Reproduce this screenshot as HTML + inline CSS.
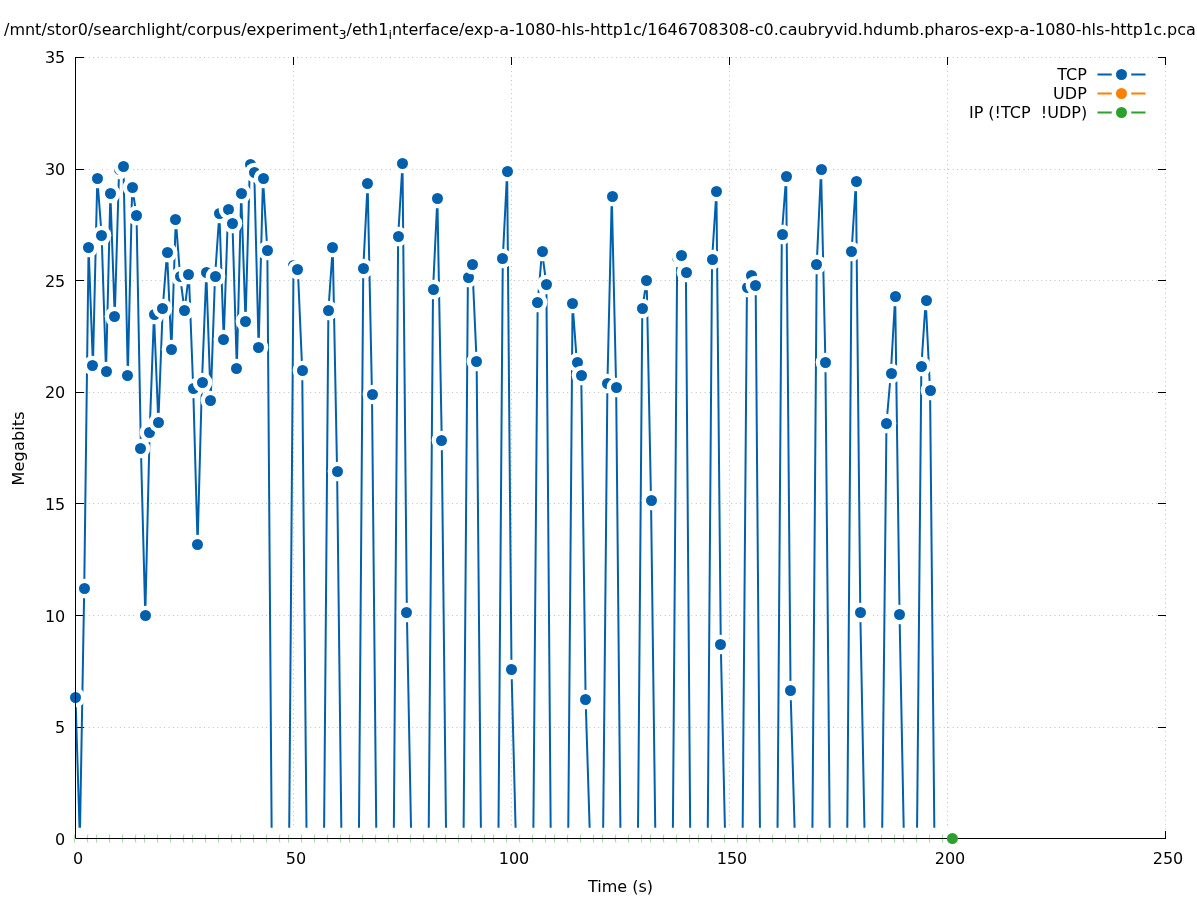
<!DOCTYPE html>
<html><head><meta charset="utf-8"><title>plot</title><style>html,body{margin:0;padding:0;background:#fff;overflow:hidden}body{width:1197px;height:900px;position:relative}</style></head><body>
<svg width="1197" height="900" viewBox="0 0 1197 900" style="display:block;position:absolute;left:0;top:0">
<rect width="1197" height="900" fill="#fff"/>
<g stroke="#c0c0c0" stroke-width="1" stroke-dasharray="1 3.43" fill="none">
<path d="M75.5 838.5H1165.5"/>
<path d="M75.5 727.5H1165.5"/>
<path d="M75.5 615.5H1165.5"/>
<path d="M75.5 503.5H1165.5"/>
<path d="M75.5 392.5H1165.5"/>
<path d="M75.5 280.5H1165.5"/>
<path d="M75.5 169.5H1165.5"/>
<path d="M75.5 57.5H1165.5"/>
<path d="M75.5 838.5V57.5"/>
<path d="M293.5 838.5V57.5"/>
<path d="M511.5 838.5V57.5"/>
<path d="M729.5 838.5V57.5"/>
<path d="M947.5 838.5V57.5"/>
<path d="M1165.5 838.5V57.5"/>
</g>
<g stroke="#000" stroke-width="1" fill="none">
<path d="M75.5 838.5H84M1166 838.5H1158"/>
<path d="M75.5 727.5H84M1166 727.5H1158"/>
<path d="M75.5 615.5H84M1166 615.5H1158"/>
<path d="M75.5 503.5H84M1166 503.5H1158"/>
<path d="M75.5 392.5H84M1166 392.5H1158"/>
<path d="M75.5 280.5H84M1166 280.5H1158"/>
<path d="M75.5 169.5H84M1166 169.5H1158"/>
<path d="M75.5 57.5H84M1166 57.5H1158"/>
<path d="M75.5 839V831M75.5 57V65"/>
<path d="M293.5 839V831M293.5 57V65"/>
<path d="M511.5 839V831M511.5 57V65"/>
<path d="M729.5 839V831M729.5 57V65"/>
<path d="M947.5 839V831M947.5 57V65"/>
<path d="M1165.5 839V831M1165.5 57V65"/>
</g>
<clipPath id="c"><rect x="75" y="57" width="1091" height="782"/></clipPath>
<path d="M75.50 697.5L79.86 838.5L84.22 588.5L88.58 247.5L92.94 365.5L97.30 178.5L101.66 235.5L106.02 371.5L110.38 193.5L114.74 316.5L119.10 169.5L123.46 166.5L127.82 375.5L132.18 187.5L136.54 215.5L140.90 448.5L145.26 615.5L149.62 432.5L153.98 314.5L158.34 422.5L162.70 308.5L167.06 252.5L171.42 349.5L175.78 219.5L180.14 276.5L184.50 310.5L188.86 274.5L193.22 388.5L197.58 544.5L201.94 382.5L206.30 272.5L210.66 400.5L215.02 276.5L219.38 213.5L223.74 339.5L228.10 209.5L232.46 223.5L236.82 368.5L241.18 193.5L245.54 321.5L249.90 164.5L254.26 172.5L258.62 347.5L262.98 178.5L267.34 250.5L271.70 838.5L276.06 838.5L280.42 838.5L284.78 838.5L289.14 838.5L293.50 265.5L297.86 269.5L302.22 370.5L306.58 838.5L310.94 838.5L315.30 838.5L319.66 838.5L324.02 838.5L328.38 310.5L332.74 247.5L337.10 471.5L341.46 838.5L345.82 838.5L350.18 838.5L354.54 838.5L358.90 838.5L363.26 268.5L367.62 183.5L371.98 394.5L376.34 838.5L380.70 838.5L385.06 838.5L389.42 838.5L393.78 838.5L398.14 236.5L402.50 163.5L406.86 612.5L411.22 838.5L415.58 838.5L419.94 838.5L424.30 838.5L428.66 838.5L433.02 289.5L437.38 198.5L441.74 440.5L446.10 838.5L450.46 838.5L454.82 838.5L459.18 838.5L463.54 838.5L467.90 277.5L472.26 264.5L476.62 361.5L480.98 838.5L485.34 838.5L489.70 838.5L494.06 838.5L498.42 838.5L502.78 258.5L507.14 171.5L511.50 669.5L515.86 838.5L520.22 838.5L524.58 838.5L528.94 838.5L533.30 838.5L537.66 302.5L542.02 251.5L546.38 284.5L550.74 838.5L555.10 838.5L559.46 838.5L563.82 838.5L568.18 838.5L572.54 303.5L576.90 362.5L581.26 375.5L585.62 699.5L589.98 838.5L594.34 838.5L598.70 838.5L603.06 838.5L607.42 383.5L611.78 196.5L616.14 387.5L620.50 838.5L624.86 838.5L629.22 838.5L633.58 838.5L637.94 838.5L642.30 308.5L646.66 280.5L651.02 500.5L655.38 838.5L659.74 838.5L664.10 838.5L668.46 838.5L672.82 838.5L677.18 257.5L681.54 255.5L685.90 272.5L690.26 838.5L694.62 838.5L698.98 838.5L703.34 838.5L707.70 838.5L712.06 259.5L716.42 191.5L720.78 644.5L725.14 838.5L729.50 838.5L733.86 838.5L738.22 838.5L742.58 838.5L746.94 287.5L751.30 275.5L755.66 285.5L760.02 838.5L764.38 838.5L768.74 838.5L773.10 838.5L777.46 838.5L781.82 234.5L786.18 176.5L790.54 690.5L794.90 838.5L799.26 838.5L803.62 838.5L807.98 838.5L812.34 838.5L816.70 264.5L821.06 169.5L825.42 362.5L829.78 838.5L834.14 838.5L838.50 838.5L842.86 838.5L847.22 838.5L851.58 251.5L855.94 181.5L860.30 612.5L864.66 838.5L869.02 838.5L873.38 838.5L877.74 838.5L882.10 838.5L886.46 423.5L890.82 373.5L895.18 296.5L899.54 614.5L903.90 838.5L908.26 838.5L912.62 838.5L916.98 838.5L921.34 366.5L925.70 300.5L930.06 390.5L934.42 838.5" fill="none" stroke="#0060ad" stroke-width="2" stroke-linejoin="round" clip-path="url(#c)"/>
<circle cx="75.5" cy="697.5" r="9.8" fill="#fff"/><circle cx="75.5" cy="697.5" r="5.5" fill="#0060ad"/>
<circle cx="79.5" cy="838.5" r="9.8" fill="#fff"/><circle cx="79.5" cy="838.5" r="5.5" fill="#0060ad"/>
<circle cx="84.5" cy="588.5" r="9.8" fill="#fff"/><circle cx="84.5" cy="588.5" r="5.5" fill="#0060ad"/>
<circle cx="88.5" cy="247.5" r="9.8" fill="#fff"/><circle cx="88.5" cy="247.5" r="5.5" fill="#0060ad"/>
<circle cx="92.5" cy="365.5" r="9.8" fill="#fff"/><circle cx="92.5" cy="365.5" r="5.5" fill="#0060ad"/>
<circle cx="97.5" cy="178.5" r="9.8" fill="#fff"/><circle cx="97.5" cy="178.5" r="5.5" fill="#0060ad"/>
<circle cx="101.5" cy="235.5" r="9.8" fill="#fff"/><circle cx="101.5" cy="235.5" r="5.5" fill="#0060ad"/>
<circle cx="106.5" cy="371.5" r="9.8" fill="#fff"/><circle cx="106.5" cy="371.5" r="5.5" fill="#0060ad"/>
<circle cx="110.5" cy="193.5" r="9.8" fill="#fff"/><circle cx="110.5" cy="193.5" r="5.5" fill="#0060ad"/>
<circle cx="114.5" cy="316.5" r="9.8" fill="#fff"/><circle cx="114.5" cy="316.5" r="5.5" fill="#0060ad"/>
<circle cx="119.5" cy="169.5" r="9.8" fill="#fff"/><circle cx="119.5" cy="169.5" r="5.5" fill="#0060ad"/>
<circle cx="123.5" cy="166.5" r="9.8" fill="#fff"/><circle cx="123.5" cy="166.5" r="5.5" fill="#0060ad"/>
<circle cx="127.5" cy="375.5" r="9.8" fill="#fff"/><circle cx="127.5" cy="375.5" r="5.5" fill="#0060ad"/>
<circle cx="132.5" cy="187.5" r="9.8" fill="#fff"/><circle cx="132.5" cy="187.5" r="5.5" fill="#0060ad"/>
<circle cx="136.5" cy="215.5" r="9.8" fill="#fff"/><circle cx="136.5" cy="215.5" r="5.5" fill="#0060ad"/>
<circle cx="140.5" cy="448.5" r="9.8" fill="#fff"/><circle cx="140.5" cy="448.5" r="5.5" fill="#0060ad"/>
<circle cx="145.5" cy="615.5" r="9.8" fill="#fff"/><circle cx="145.5" cy="615.5" r="5.5" fill="#0060ad"/>
<circle cx="149.5" cy="432.5" r="9.8" fill="#fff"/><circle cx="149.5" cy="432.5" r="5.5" fill="#0060ad"/>
<circle cx="154.5" cy="314.5" r="9.8" fill="#fff"/><circle cx="154.5" cy="314.5" r="5.5" fill="#0060ad"/>
<circle cx="158.5" cy="422.5" r="9.8" fill="#fff"/><circle cx="158.5" cy="422.5" r="5.5" fill="#0060ad"/>
<circle cx="162.5" cy="308.5" r="9.8" fill="#fff"/><circle cx="162.5" cy="308.5" r="5.5" fill="#0060ad"/>
<circle cx="167.5" cy="252.5" r="9.8" fill="#fff"/><circle cx="167.5" cy="252.5" r="5.5" fill="#0060ad"/>
<circle cx="171.5" cy="349.5" r="9.8" fill="#fff"/><circle cx="171.5" cy="349.5" r="5.5" fill="#0060ad"/>
<circle cx="175.5" cy="219.5" r="9.8" fill="#fff"/><circle cx="175.5" cy="219.5" r="5.5" fill="#0060ad"/>
<circle cx="180.5" cy="276.5" r="9.8" fill="#fff"/><circle cx="180.5" cy="276.5" r="5.5" fill="#0060ad"/>
<circle cx="184.5" cy="310.5" r="9.8" fill="#fff"/><circle cx="184.5" cy="310.5" r="5.5" fill="#0060ad"/>
<circle cx="188.5" cy="274.5" r="9.8" fill="#fff"/><circle cx="188.5" cy="274.5" r="5.5" fill="#0060ad"/>
<circle cx="193.5" cy="388.5" r="9.8" fill="#fff"/><circle cx="193.5" cy="388.5" r="5.5" fill="#0060ad"/>
<circle cx="197.5" cy="544.5" r="9.8" fill="#fff"/><circle cx="197.5" cy="544.5" r="5.5" fill="#0060ad"/>
<circle cx="202.5" cy="382.5" r="9.8" fill="#fff"/><circle cx="202.5" cy="382.5" r="5.5" fill="#0060ad"/>
<circle cx="206.5" cy="272.5" r="9.8" fill="#fff"/><circle cx="206.5" cy="272.5" r="5.5" fill="#0060ad"/>
<circle cx="210.5" cy="400.5" r="9.8" fill="#fff"/><circle cx="210.5" cy="400.5" r="5.5" fill="#0060ad"/>
<circle cx="215.5" cy="276.5" r="9.8" fill="#fff"/><circle cx="215.5" cy="276.5" r="5.5" fill="#0060ad"/>
<circle cx="219.5" cy="213.5" r="9.8" fill="#fff"/><circle cx="219.5" cy="213.5" r="5.5" fill="#0060ad"/>
<circle cx="223.5" cy="339.5" r="9.8" fill="#fff"/><circle cx="223.5" cy="339.5" r="5.5" fill="#0060ad"/>
<circle cx="228.5" cy="209.5" r="9.8" fill="#fff"/><circle cx="228.5" cy="209.5" r="5.5" fill="#0060ad"/>
<circle cx="232.5" cy="223.5" r="9.8" fill="#fff"/><circle cx="232.5" cy="223.5" r="5.5" fill="#0060ad"/>
<circle cx="236.5" cy="368.5" r="9.8" fill="#fff"/><circle cx="236.5" cy="368.5" r="5.5" fill="#0060ad"/>
<circle cx="241.5" cy="193.5" r="9.8" fill="#fff"/><circle cx="241.5" cy="193.5" r="5.5" fill="#0060ad"/>
<circle cx="245.5" cy="321.5" r="9.8" fill="#fff"/><circle cx="245.5" cy="321.5" r="5.5" fill="#0060ad"/>
<circle cx="250.5" cy="164.5" r="9.8" fill="#fff"/><circle cx="250.5" cy="164.5" r="5.5" fill="#0060ad"/>
<circle cx="254.5" cy="172.5" r="9.8" fill="#fff"/><circle cx="254.5" cy="172.5" r="5.5" fill="#0060ad"/>
<circle cx="258.5" cy="347.5" r="9.8" fill="#fff"/><circle cx="258.5" cy="347.5" r="5.5" fill="#0060ad"/>
<circle cx="263.5" cy="178.5" r="9.8" fill="#fff"/><circle cx="263.5" cy="178.5" r="5.5" fill="#0060ad"/>
<circle cx="267.5" cy="250.5" r="9.8" fill="#fff"/><circle cx="267.5" cy="250.5" r="5.5" fill="#0060ad"/>
<circle cx="271.5" cy="838.5" r="9.8" fill="#fff"/><circle cx="271.5" cy="838.5" r="5.5" fill="#0060ad"/>
<circle cx="276.5" cy="838.5" r="9.8" fill="#fff"/><circle cx="276.5" cy="838.5" r="5.5" fill="#0060ad"/>
<circle cx="280.5" cy="838.5" r="9.8" fill="#fff"/><circle cx="280.5" cy="838.5" r="5.5" fill="#0060ad"/>
<circle cx="284.5" cy="838.5" r="9.8" fill="#fff"/><circle cx="284.5" cy="838.5" r="5.5" fill="#0060ad"/>
<circle cx="289.5" cy="838.5" r="9.8" fill="#fff"/><circle cx="289.5" cy="838.5" r="5.5" fill="#0060ad"/>
<circle cx="293.5" cy="265.5" r="9.8" fill="#fff"/><circle cx="293.5" cy="265.5" r="5.5" fill="#0060ad"/>
<circle cx="297.5" cy="269.5" r="9.8" fill="#fff"/><circle cx="297.5" cy="269.5" r="5.5" fill="#0060ad"/>
<circle cx="302.5" cy="370.5" r="9.8" fill="#fff"/><circle cx="302.5" cy="370.5" r="5.5" fill="#0060ad"/>
<circle cx="306.5" cy="838.5" r="9.8" fill="#fff"/><circle cx="306.5" cy="838.5" r="5.5" fill="#0060ad"/>
<circle cx="310.5" cy="838.5" r="9.8" fill="#fff"/><circle cx="310.5" cy="838.5" r="5.5" fill="#0060ad"/>
<circle cx="315.5" cy="838.5" r="9.8" fill="#fff"/><circle cx="315.5" cy="838.5" r="5.5" fill="#0060ad"/>
<circle cx="319.5" cy="838.5" r="9.8" fill="#fff"/><circle cx="319.5" cy="838.5" r="5.5" fill="#0060ad"/>
<circle cx="324.5" cy="838.5" r="9.8" fill="#fff"/><circle cx="324.5" cy="838.5" r="5.5" fill="#0060ad"/>
<circle cx="328.5" cy="310.5" r="9.8" fill="#fff"/><circle cx="328.5" cy="310.5" r="5.5" fill="#0060ad"/>
<circle cx="332.5" cy="247.5" r="9.8" fill="#fff"/><circle cx="332.5" cy="247.5" r="5.5" fill="#0060ad"/>
<circle cx="337.5" cy="471.5" r="9.8" fill="#fff"/><circle cx="337.5" cy="471.5" r="5.5" fill="#0060ad"/>
<circle cx="341.5" cy="838.5" r="9.8" fill="#fff"/><circle cx="341.5" cy="838.5" r="5.5" fill="#0060ad"/>
<circle cx="345.5" cy="838.5" r="9.8" fill="#fff"/><circle cx="345.5" cy="838.5" r="5.5" fill="#0060ad"/>
<circle cx="350.5" cy="838.5" r="9.8" fill="#fff"/><circle cx="350.5" cy="838.5" r="5.5" fill="#0060ad"/>
<circle cx="354.5" cy="838.5" r="9.8" fill="#fff"/><circle cx="354.5" cy="838.5" r="5.5" fill="#0060ad"/>
<circle cx="358.5" cy="838.5" r="9.8" fill="#fff"/><circle cx="358.5" cy="838.5" r="5.5" fill="#0060ad"/>
<circle cx="363.5" cy="268.5" r="9.8" fill="#fff"/><circle cx="363.5" cy="268.5" r="5.5" fill="#0060ad"/>
<circle cx="367.5" cy="183.5" r="9.8" fill="#fff"/><circle cx="367.5" cy="183.5" r="5.5" fill="#0060ad"/>
<circle cx="372.5" cy="394.5" r="9.8" fill="#fff"/><circle cx="372.5" cy="394.5" r="5.5" fill="#0060ad"/>
<circle cx="376.5" cy="838.5" r="9.8" fill="#fff"/><circle cx="376.5" cy="838.5" r="5.5" fill="#0060ad"/>
<circle cx="380.5" cy="838.5" r="9.8" fill="#fff"/><circle cx="380.5" cy="838.5" r="5.5" fill="#0060ad"/>
<circle cx="385.5" cy="838.5" r="9.8" fill="#fff"/><circle cx="385.5" cy="838.5" r="5.5" fill="#0060ad"/>
<circle cx="389.5" cy="838.5" r="9.8" fill="#fff"/><circle cx="389.5" cy="838.5" r="5.5" fill="#0060ad"/>
<circle cx="393.5" cy="838.5" r="9.8" fill="#fff"/><circle cx="393.5" cy="838.5" r="5.5" fill="#0060ad"/>
<circle cx="398.5" cy="236.5" r="9.8" fill="#fff"/><circle cx="398.5" cy="236.5" r="5.5" fill="#0060ad"/>
<circle cx="402.5" cy="163.5" r="9.8" fill="#fff"/><circle cx="402.5" cy="163.5" r="5.5" fill="#0060ad"/>
<circle cx="406.5" cy="612.5" r="9.8" fill="#fff"/><circle cx="406.5" cy="612.5" r="5.5" fill="#0060ad"/>
<circle cx="411.5" cy="838.5" r="9.8" fill="#fff"/><circle cx="411.5" cy="838.5" r="5.5" fill="#0060ad"/>
<circle cx="415.5" cy="838.5" r="9.8" fill="#fff"/><circle cx="415.5" cy="838.5" r="5.5" fill="#0060ad"/>
<circle cx="420.5" cy="838.5" r="9.8" fill="#fff"/><circle cx="420.5" cy="838.5" r="5.5" fill="#0060ad"/>
<circle cx="424.5" cy="838.5" r="9.8" fill="#fff"/><circle cx="424.5" cy="838.5" r="5.5" fill="#0060ad"/>
<circle cx="428.5" cy="838.5" r="9.8" fill="#fff"/><circle cx="428.5" cy="838.5" r="5.5" fill="#0060ad"/>
<circle cx="433.5" cy="289.5" r="9.8" fill="#fff"/><circle cx="433.5" cy="289.5" r="5.5" fill="#0060ad"/>
<circle cx="437.5" cy="198.5" r="9.8" fill="#fff"/><circle cx="437.5" cy="198.5" r="5.5" fill="#0060ad"/>
<circle cx="441.5" cy="440.5" r="9.8" fill="#fff"/><circle cx="441.5" cy="440.5" r="5.5" fill="#0060ad"/>
<circle cx="446.5" cy="838.5" r="9.8" fill="#fff"/><circle cx="446.5" cy="838.5" r="5.5" fill="#0060ad"/>
<circle cx="450.5" cy="838.5" r="9.8" fill="#fff"/><circle cx="450.5" cy="838.5" r="5.5" fill="#0060ad"/>
<circle cx="454.5" cy="838.5" r="9.8" fill="#fff"/><circle cx="454.5" cy="838.5" r="5.5" fill="#0060ad"/>
<circle cx="459.5" cy="838.5" r="9.8" fill="#fff"/><circle cx="459.5" cy="838.5" r="5.5" fill="#0060ad"/>
<circle cx="463.5" cy="838.5" r="9.8" fill="#fff"/><circle cx="463.5" cy="838.5" r="5.5" fill="#0060ad"/>
<circle cx="468.5" cy="277.5" r="9.8" fill="#fff"/><circle cx="468.5" cy="277.5" r="5.5" fill="#0060ad"/>
<circle cx="472.5" cy="264.5" r="9.8" fill="#fff"/><circle cx="472.5" cy="264.5" r="5.5" fill="#0060ad"/>
<circle cx="476.5" cy="361.5" r="9.8" fill="#fff"/><circle cx="476.5" cy="361.5" r="5.5" fill="#0060ad"/>
<circle cx="481.5" cy="838.5" r="9.8" fill="#fff"/><circle cx="481.5" cy="838.5" r="5.5" fill="#0060ad"/>
<circle cx="485.5" cy="838.5" r="9.8" fill="#fff"/><circle cx="485.5" cy="838.5" r="5.5" fill="#0060ad"/>
<circle cx="489.5" cy="838.5" r="9.8" fill="#fff"/><circle cx="489.5" cy="838.5" r="5.5" fill="#0060ad"/>
<circle cx="494.5" cy="838.5" r="9.8" fill="#fff"/><circle cx="494.5" cy="838.5" r="5.5" fill="#0060ad"/>
<circle cx="498.5" cy="838.5" r="9.8" fill="#fff"/><circle cx="498.5" cy="838.5" r="5.5" fill="#0060ad"/>
<circle cx="502.5" cy="258.5" r="9.8" fill="#fff"/><circle cx="502.5" cy="258.5" r="5.5" fill="#0060ad"/>
<circle cx="507.5" cy="171.5" r="9.8" fill="#fff"/><circle cx="507.5" cy="171.5" r="5.5" fill="#0060ad"/>
<circle cx="511.5" cy="669.5" r="9.8" fill="#fff"/><circle cx="511.5" cy="669.5" r="5.5" fill="#0060ad"/>
<circle cx="515.5" cy="838.5" r="9.8" fill="#fff"/><circle cx="515.5" cy="838.5" r="5.5" fill="#0060ad"/>
<circle cx="520.5" cy="838.5" r="9.8" fill="#fff"/><circle cx="520.5" cy="838.5" r="5.5" fill="#0060ad"/>
<circle cx="524.5" cy="838.5" r="9.8" fill="#fff"/><circle cx="524.5" cy="838.5" r="5.5" fill="#0060ad"/>
<circle cx="529.5" cy="838.5" r="9.8" fill="#fff"/><circle cx="529.5" cy="838.5" r="5.5" fill="#0060ad"/>
<circle cx="533.5" cy="838.5" r="9.8" fill="#fff"/><circle cx="533.5" cy="838.5" r="5.5" fill="#0060ad"/>
<circle cx="537.5" cy="302.5" r="9.8" fill="#fff"/><circle cx="537.5" cy="302.5" r="5.5" fill="#0060ad"/>
<circle cx="542.5" cy="251.5" r="9.8" fill="#fff"/><circle cx="542.5" cy="251.5" r="5.5" fill="#0060ad"/>
<circle cx="546.5" cy="284.5" r="9.8" fill="#fff"/><circle cx="546.5" cy="284.5" r="5.5" fill="#0060ad"/>
<circle cx="550.5" cy="838.5" r="9.8" fill="#fff"/><circle cx="550.5" cy="838.5" r="5.5" fill="#0060ad"/>
<circle cx="555.5" cy="838.5" r="9.8" fill="#fff"/><circle cx="555.5" cy="838.5" r="5.5" fill="#0060ad"/>
<circle cx="559.5" cy="838.5" r="9.8" fill="#fff"/><circle cx="559.5" cy="838.5" r="5.5" fill="#0060ad"/>
<circle cx="563.5" cy="838.5" r="9.8" fill="#fff"/><circle cx="563.5" cy="838.5" r="5.5" fill="#0060ad"/>
<circle cx="568.5" cy="838.5" r="9.8" fill="#fff"/><circle cx="568.5" cy="838.5" r="5.5" fill="#0060ad"/>
<circle cx="572.5" cy="303.5" r="9.8" fill="#fff"/><circle cx="572.5" cy="303.5" r="5.5" fill="#0060ad"/>
<circle cx="577.5" cy="362.5" r="9.8" fill="#fff"/><circle cx="577.5" cy="362.5" r="5.5" fill="#0060ad"/>
<circle cx="581.5" cy="375.5" r="9.8" fill="#fff"/><circle cx="581.5" cy="375.5" r="5.5" fill="#0060ad"/>
<circle cx="585.5" cy="699.5" r="9.8" fill="#fff"/><circle cx="585.5" cy="699.5" r="5.5" fill="#0060ad"/>
<circle cx="590.5" cy="838.5" r="9.8" fill="#fff"/><circle cx="590.5" cy="838.5" r="5.5" fill="#0060ad"/>
<circle cx="594.5" cy="838.5" r="9.8" fill="#fff"/><circle cx="594.5" cy="838.5" r="5.5" fill="#0060ad"/>
<circle cx="598.5" cy="838.5" r="9.8" fill="#fff"/><circle cx="598.5" cy="838.5" r="5.5" fill="#0060ad"/>
<circle cx="603.5" cy="838.5" r="9.8" fill="#fff"/><circle cx="603.5" cy="838.5" r="5.5" fill="#0060ad"/>
<circle cx="607.5" cy="383.5" r="9.8" fill="#fff"/><circle cx="607.5" cy="383.5" r="5.5" fill="#0060ad"/>
<circle cx="612.5" cy="196.5" r="9.8" fill="#fff"/><circle cx="612.5" cy="196.5" r="5.5" fill="#0060ad"/>
<circle cx="616.5" cy="387.5" r="9.8" fill="#fff"/><circle cx="616.5" cy="387.5" r="5.5" fill="#0060ad"/>
<circle cx="620.5" cy="838.5" r="9.8" fill="#fff"/><circle cx="620.5" cy="838.5" r="5.5" fill="#0060ad"/>
<circle cx="625.5" cy="838.5" r="9.8" fill="#fff"/><circle cx="625.5" cy="838.5" r="5.5" fill="#0060ad"/>
<circle cx="629.5" cy="838.5" r="9.8" fill="#fff"/><circle cx="629.5" cy="838.5" r="5.5" fill="#0060ad"/>
<circle cx="633.5" cy="838.5" r="9.8" fill="#fff"/><circle cx="633.5" cy="838.5" r="5.5" fill="#0060ad"/>
<circle cx="638.5" cy="838.5" r="9.8" fill="#fff"/><circle cx="638.5" cy="838.5" r="5.5" fill="#0060ad"/>
<circle cx="642.5" cy="308.5" r="9.8" fill="#fff"/><circle cx="642.5" cy="308.5" r="5.5" fill="#0060ad"/>
<circle cx="646.5" cy="280.5" r="9.8" fill="#fff"/><circle cx="646.5" cy="280.5" r="5.5" fill="#0060ad"/>
<circle cx="651.5" cy="500.5" r="9.8" fill="#fff"/><circle cx="651.5" cy="500.5" r="5.5" fill="#0060ad"/>
<circle cx="655.5" cy="838.5" r="9.8" fill="#fff"/><circle cx="655.5" cy="838.5" r="5.5" fill="#0060ad"/>
<circle cx="659.5" cy="838.5" r="9.8" fill="#fff"/><circle cx="659.5" cy="838.5" r="5.5" fill="#0060ad"/>
<circle cx="664.5" cy="838.5" r="9.8" fill="#fff"/><circle cx="664.5" cy="838.5" r="5.5" fill="#0060ad"/>
<circle cx="668.5" cy="838.5" r="9.8" fill="#fff"/><circle cx="668.5" cy="838.5" r="5.5" fill="#0060ad"/>
<circle cx="673.5" cy="838.5" r="9.8" fill="#fff"/><circle cx="673.5" cy="838.5" r="5.5" fill="#0060ad"/>
<circle cx="677.5" cy="257.5" r="9.8" fill="#fff"/><circle cx="677.5" cy="257.5" r="5.5" fill="#0060ad"/>
<circle cx="681.5" cy="255.5" r="9.8" fill="#fff"/><circle cx="681.5" cy="255.5" r="5.5" fill="#0060ad"/>
<circle cx="686.5" cy="272.5" r="9.8" fill="#fff"/><circle cx="686.5" cy="272.5" r="5.5" fill="#0060ad"/>
<circle cx="690.5" cy="838.5" r="9.8" fill="#fff"/><circle cx="690.5" cy="838.5" r="5.5" fill="#0060ad"/>
<circle cx="694.5" cy="838.5" r="9.8" fill="#fff"/><circle cx="694.5" cy="838.5" r="5.5" fill="#0060ad"/>
<circle cx="699.5" cy="838.5" r="9.8" fill="#fff"/><circle cx="699.5" cy="838.5" r="5.5" fill="#0060ad"/>
<circle cx="703.5" cy="838.5" r="9.8" fill="#fff"/><circle cx="703.5" cy="838.5" r="5.5" fill="#0060ad"/>
<circle cx="707.5" cy="838.5" r="9.8" fill="#fff"/><circle cx="707.5" cy="838.5" r="5.5" fill="#0060ad"/>
<circle cx="712.5" cy="259.5" r="9.8" fill="#fff"/><circle cx="712.5" cy="259.5" r="5.5" fill="#0060ad"/>
<circle cx="716.5" cy="191.5" r="9.8" fill="#fff"/><circle cx="716.5" cy="191.5" r="5.5" fill="#0060ad"/>
<circle cx="720.5" cy="644.5" r="9.8" fill="#fff"/><circle cx="720.5" cy="644.5" r="5.5" fill="#0060ad"/>
<circle cx="725.5" cy="838.5" r="9.8" fill="#fff"/><circle cx="725.5" cy="838.5" r="5.5" fill="#0060ad"/>
<circle cx="729.5" cy="838.5" r="9.8" fill="#fff"/><circle cx="729.5" cy="838.5" r="5.5" fill="#0060ad"/>
<circle cx="734.5" cy="838.5" r="9.8" fill="#fff"/><circle cx="734.5" cy="838.5" r="5.5" fill="#0060ad"/>
<circle cx="738.5" cy="838.5" r="9.8" fill="#fff"/><circle cx="738.5" cy="838.5" r="5.5" fill="#0060ad"/>
<circle cx="742.5" cy="838.5" r="9.8" fill="#fff"/><circle cx="742.5" cy="838.5" r="5.5" fill="#0060ad"/>
<circle cx="747.5" cy="287.5" r="9.8" fill="#fff"/><circle cx="747.5" cy="287.5" r="5.5" fill="#0060ad"/>
<circle cx="751.5" cy="275.5" r="9.8" fill="#fff"/><circle cx="751.5" cy="275.5" r="5.5" fill="#0060ad"/>
<circle cx="755.5" cy="285.5" r="9.8" fill="#fff"/><circle cx="755.5" cy="285.5" r="5.5" fill="#0060ad"/>
<circle cx="760.5" cy="838.5" r="9.8" fill="#fff"/><circle cx="760.5" cy="838.5" r="5.5" fill="#0060ad"/>
<circle cx="764.5" cy="838.5" r="9.8" fill="#fff"/><circle cx="764.5" cy="838.5" r="5.5" fill="#0060ad"/>
<circle cx="768.5" cy="838.5" r="9.8" fill="#fff"/><circle cx="768.5" cy="838.5" r="5.5" fill="#0060ad"/>
<circle cx="773.5" cy="838.5" r="9.8" fill="#fff"/><circle cx="773.5" cy="838.5" r="5.5" fill="#0060ad"/>
<circle cx="777.5" cy="838.5" r="9.8" fill="#fff"/><circle cx="777.5" cy="838.5" r="5.5" fill="#0060ad"/>
<circle cx="782.5" cy="234.5" r="9.8" fill="#fff"/><circle cx="782.5" cy="234.5" r="5.5" fill="#0060ad"/>
<circle cx="786.5" cy="176.5" r="9.8" fill="#fff"/><circle cx="786.5" cy="176.5" r="5.5" fill="#0060ad"/>
<circle cx="790.5" cy="690.5" r="9.8" fill="#fff"/><circle cx="790.5" cy="690.5" r="5.5" fill="#0060ad"/>
<circle cx="795.5" cy="838.5" r="9.8" fill="#fff"/><circle cx="795.5" cy="838.5" r="5.5" fill="#0060ad"/>
<circle cx="799.5" cy="838.5" r="9.8" fill="#fff"/><circle cx="799.5" cy="838.5" r="5.5" fill="#0060ad"/>
<circle cx="803.5" cy="838.5" r="9.8" fill="#fff"/><circle cx="803.5" cy="838.5" r="5.5" fill="#0060ad"/>
<circle cx="808.5" cy="838.5" r="9.8" fill="#fff"/><circle cx="808.5" cy="838.5" r="5.5" fill="#0060ad"/>
<circle cx="812.5" cy="838.5" r="9.8" fill="#fff"/><circle cx="812.5" cy="838.5" r="5.5" fill="#0060ad"/>
<circle cx="816.5" cy="264.5" r="9.8" fill="#fff"/><circle cx="816.5" cy="264.5" r="5.5" fill="#0060ad"/>
<circle cx="821.5" cy="169.5" r="9.8" fill="#fff"/><circle cx="821.5" cy="169.5" r="5.5" fill="#0060ad"/>
<circle cx="825.5" cy="362.5" r="9.8" fill="#fff"/><circle cx="825.5" cy="362.5" r="5.5" fill="#0060ad"/>
<circle cx="830.5" cy="838.5" r="9.8" fill="#fff"/><circle cx="830.5" cy="838.5" r="5.5" fill="#0060ad"/>
<circle cx="834.5" cy="838.5" r="9.8" fill="#fff"/><circle cx="834.5" cy="838.5" r="5.5" fill="#0060ad"/>
<circle cx="838.5" cy="838.5" r="9.8" fill="#fff"/><circle cx="838.5" cy="838.5" r="5.5" fill="#0060ad"/>
<circle cx="843.5" cy="838.5" r="9.8" fill="#fff"/><circle cx="843.5" cy="838.5" r="5.5" fill="#0060ad"/>
<circle cx="847.5" cy="838.5" r="9.8" fill="#fff"/><circle cx="847.5" cy="838.5" r="5.5" fill="#0060ad"/>
<circle cx="851.5" cy="251.5" r="9.8" fill="#fff"/><circle cx="851.5" cy="251.5" r="5.5" fill="#0060ad"/>
<circle cx="856.5" cy="181.5" r="9.8" fill="#fff"/><circle cx="856.5" cy="181.5" r="5.5" fill="#0060ad"/>
<circle cx="860.5" cy="612.5" r="9.8" fill="#fff"/><circle cx="860.5" cy="612.5" r="5.5" fill="#0060ad"/>
<circle cx="864.5" cy="838.5" r="9.8" fill="#fff"/><circle cx="864.5" cy="838.5" r="5.5" fill="#0060ad"/>
<circle cx="869.5" cy="838.5" r="9.8" fill="#fff"/><circle cx="869.5" cy="838.5" r="5.5" fill="#0060ad"/>
<circle cx="873.5" cy="838.5" r="9.8" fill="#fff"/><circle cx="873.5" cy="838.5" r="5.5" fill="#0060ad"/>
<circle cx="878.5" cy="838.5" r="9.8" fill="#fff"/><circle cx="878.5" cy="838.5" r="5.5" fill="#0060ad"/>
<circle cx="882.5" cy="838.5" r="9.8" fill="#fff"/><circle cx="882.5" cy="838.5" r="5.5" fill="#0060ad"/>
<circle cx="886.5" cy="423.5" r="9.8" fill="#fff"/><circle cx="886.5" cy="423.5" r="5.5" fill="#0060ad"/>
<circle cx="891.5" cy="373.5" r="9.8" fill="#fff"/><circle cx="891.5" cy="373.5" r="5.5" fill="#0060ad"/>
<circle cx="895.5" cy="296.5" r="9.8" fill="#fff"/><circle cx="895.5" cy="296.5" r="5.5" fill="#0060ad"/>
<circle cx="899.5" cy="614.5" r="9.8" fill="#fff"/><circle cx="899.5" cy="614.5" r="5.5" fill="#0060ad"/>
<circle cx="904.5" cy="838.5" r="9.8" fill="#fff"/><circle cx="904.5" cy="838.5" r="5.5" fill="#0060ad"/>
<circle cx="908.5" cy="838.5" r="9.8" fill="#fff"/><circle cx="908.5" cy="838.5" r="5.5" fill="#0060ad"/>
<circle cx="912.5" cy="838.5" r="9.8" fill="#fff"/><circle cx="912.5" cy="838.5" r="5.5" fill="#0060ad"/>
<circle cx="917.5" cy="838.5" r="9.8" fill="#fff"/><circle cx="917.5" cy="838.5" r="5.5" fill="#0060ad"/>
<circle cx="921.5" cy="366.5" r="9.8" fill="#fff"/><circle cx="921.5" cy="366.5" r="5.5" fill="#0060ad"/>
<circle cx="926.5" cy="300.5" r="9.8" fill="#fff"/><circle cx="926.5" cy="300.5" r="5.5" fill="#0060ad"/>
<circle cx="930.5" cy="390.5" r="9.8" fill="#fff"/><circle cx="930.5" cy="390.5" r="5.5" fill="#0060ad"/>
<circle cx="934.5" cy="838.5" r="9.8" fill="#fff"/><circle cx="934.5" cy="838.5" r="5.5" fill="#0060ad"/>
<path d="M75.5 838.5H951.9" stroke="#fff" stroke-width="21.6" stroke-linecap="round" fill="none"/>
<g fill="none" stroke="#2ca02c" stroke-width="0.8" opacity="0.55">
<path d="M74.9 834.4Q73.5 838.5 74.9 842.6"/>
<path d="M87.9 834.4Q86.5 838.5 87.9 842.6"/>
<path d="M96.9 834.4Q95.5 838.5 96.9 842.6"/>
<path d="M109.9 834.4Q108.5 838.5 109.9 842.6"/>
<path d="M122.9 834.4Q121.5 838.5 122.9 842.6"/>
<path d="M135.9 834.4Q134.5 838.5 135.9 842.6"/>
<path d="M144.9 834.4Q143.5 838.5 144.9 842.6"/>
<path d="M157.9 834.4Q156.5 838.5 157.9 842.6"/>
<path d="M170.9 834.4Q169.5 838.5 170.9 842.6"/>
<path d="M183.9 834.4Q182.5 838.5 183.9 842.6"/>
<path d="M192.9 834.4Q191.5 838.5 192.9 842.6"/>
<path d="M205.9 834.4Q204.5 838.5 205.9 842.6"/>
<path d="M218.9 834.4Q217.5 838.5 218.9 842.6"/>
<path d="M231.9 834.4Q230.5 838.5 231.9 842.6"/>
<path d="M240.9 834.4Q239.5 838.5 240.9 842.6"/>
<path d="M253.9 834.4Q252.5 838.5 253.9 842.6"/>
<path d="M266.9 834.4Q265.5 838.5 266.9 842.6"/>
<path d="M279.9 834.4Q278.5 838.5 279.9 842.6"/>
<path d="M288.9 834.4Q287.5 838.5 288.9 842.6"/>
<path d="M301.9 834.4Q300.5 838.5 301.9 842.6"/>
<path d="M314.9 834.4Q313.5 838.5 314.9 842.6"/>
<path d="M327.9 834.4Q326.5 838.5 327.9 842.6"/>
<path d="M340.9 834.4Q339.5 838.5 340.9 842.6"/>
<path d="M349.9 834.4Q348.5 838.5 349.9 842.6"/>
<path d="M362.9 834.4Q361.5 838.5 362.9 842.6"/>
<path d="M375.9 834.4Q374.5 838.5 375.9 842.6"/>
<path d="M388.9 834.4Q387.5 838.5 388.9 842.6"/>
<path d="M397.9 834.4Q396.5 838.5 397.9 842.6"/>
<path d="M410.9 834.4Q409.5 838.5 410.9 842.6"/>
<path d="M423.9 834.4Q422.5 838.5 423.9 842.6"/>
<path d="M436.9 834.4Q435.5 838.5 436.9 842.6"/>
<path d="M445.9 834.4Q444.5 838.5 445.9 842.6"/>
<path d="M458.9 834.4Q457.5 838.5 458.9 842.6"/>
<path d="M471.9 834.4Q470.5 838.5 471.9 842.6"/>
<path d="M484.9 834.4Q483.5 838.5 484.9 842.6"/>
<path d="M493.9 834.4Q492.5 838.5 493.9 842.6"/>
<path d="M506.9 834.4Q505.5 838.5 506.9 842.6"/>
<path d="M519.9 834.4Q518.5 838.5 519.9 842.6"/>
<path d="M532.9 834.4Q531.5 838.5 532.9 842.6"/>
<path d="M545.9 834.4Q544.5 838.5 545.9 842.6"/>
<path d="M554.9 834.4Q553.5 838.5 554.9 842.6"/>
<path d="M567.9 834.4Q566.5 838.5 567.9 842.6"/>
<path d="M580.9 834.4Q579.5 838.5 580.9 842.6"/>
<path d="M593.9 834.4Q592.5 838.5 593.9 842.6"/>
<path d="M602.9 834.4Q601.5 838.5 602.9 842.6"/>
<path d="M615.9 834.4Q614.5 838.5 615.9 842.6"/>
<path d="M628.9 834.4Q627.5 838.5 628.9 842.6"/>
<path d="M641.9 834.4Q640.5 838.5 641.9 842.6"/>
<path d="M650.9 834.4Q649.5 838.5 650.9 842.6"/>
<path d="M663.9 834.4Q662.5 838.5 663.9 842.6"/>
<path d="M676.9 834.4Q675.5 838.5 676.9 842.6"/>
<path d="M689.9 834.4Q688.5 838.5 689.9 842.6"/>
<path d="M698.9 834.4Q697.5 838.5 698.9 842.6"/>
<path d="M711.9 834.4Q710.5 838.5 711.9 842.6"/>
<path d="M724.9 834.4Q723.5 838.5 724.9 842.6"/>
<path d="M737.9 834.4Q736.5 838.5 737.9 842.6"/>
<path d="M746.9 834.4Q745.5 838.5 746.9 842.6"/>
<path d="M759.9 834.4Q758.5 838.5 759.9 842.6"/>
<path d="M772.9 834.4Q771.5 838.5 772.9 842.6"/>
<path d="M785.9 834.4Q784.5 838.5 785.9 842.6"/>
<path d="M798.9 834.4Q797.5 838.5 798.9 842.6"/>
<path d="M807.9 834.4Q806.5 838.5 807.9 842.6"/>
<path d="M820.9 834.4Q819.5 838.5 820.9 842.6"/>
<path d="M833.9 834.4Q832.5 838.5 833.9 842.6"/>
<path d="M846.9 834.4Q845.5 838.5 846.9 842.6"/>
<path d="M855.9 834.4Q854.5 838.5 855.9 842.6"/>
<path d="M868.9 834.4Q867.5 838.5 868.9 842.6"/>
<path d="M881.9 834.4Q880.5 838.5 881.9 842.6"/>
<path d="M894.9 834.4Q893.5 838.5 894.9 842.6"/>
<path d="M903.9 834.4Q902.5 838.5 903.9 842.6"/>
<path d="M916.9 834.4Q915.5 838.5 916.9 842.6"/>
<path d="M929.9 834.4Q928.5 838.5 929.9 842.6"/>
<path d="M942.9 834.4Q941.5 838.5 942.9 842.6"/>
</g>
<path d="M75.5 57.5V838.5H1165.5" fill="none" stroke="#000" stroke-width="1"/>
<circle cx="952.4" cy="838.5" r="5.5" fill="#2ca02c"/>
<path d="M1097.5 74.5H1145.5" stroke="#0060ad" stroke-width="2" fill="none"/>
<circle cx="1121.5" cy="74.5" r="9.8" fill="#fff"/><circle cx="1121.5" cy="74.5" r="5.5" fill="#0060ad"/>
<path d="M1097.5 93.5H1145.5" stroke="#ff7f00" stroke-width="2" fill="none"/>
<circle cx="1121.5" cy="93.5" r="9.8" fill="#fff"/><circle cx="1121.5" cy="93.5" r="5.5" fill="#ff7f00"/>
<path d="M1097.5 112.5H1145.5" stroke="#2ca02c" stroke-width="2" fill="none"/>
<circle cx="1121.5" cy="112.5" r="9.8" fill="#fff"/><circle cx="1121.5" cy="112.5" r="5.5" fill="#2ca02c"/>
<g font-family="'DejaVu Sans', 'Liberation Sans', sans-serif" font-size="16" fill="#000">
<text x="1086.8" y="80" text-anchor="end" xml:space="preserve">TCP</text>
<text x="1086.8" y="99" text-anchor="end" xml:space="preserve">UDP</text>
<text x="1087.2" y="118" text-anchor="end" xml:space="preserve">IP (!TCP  !UDP)</text>
<text x="65.3" y="844.9" text-anchor="end">0</text>
<text x="65.3" y="732.9" text-anchor="end">5</text>
<text x="65.3" y="621.9" text-anchor="end">10</text>
<text x="65.3" y="509.9" text-anchor="end">15</text>
<text x="65.3" y="397.9" text-anchor="end">20</text>
<text x="65.3" y="286.9" text-anchor="end">25</text>
<text x="65.3" y="174.9" text-anchor="end">30</text>
<text x="65.3" y="62.9" text-anchor="end">35</text>
<text x="78.0" y="864" text-anchor="middle">0</text>
<text x="296.0" y="864" text-anchor="middle">50</text>
<text x="514.0" y="864" text-anchor="middle">100</text>
<text x="732.0" y="864" text-anchor="middle">150</text>
<text x="950.0" y="864" text-anchor="middle">200</text>
<text x="1168.0" y="864" text-anchor="middle">250</text>
<text x="620.5" y="892" text-anchor="middle">Time (s)</text>
<text transform="translate(24,448.3) rotate(-90)" text-anchor="middle" letter-spacing="0.18">Megabits</text>
<text x="4" y="35" xml:space="preserve">/mnt/stor0/searchlight/corpus/experiment<tspan font-size="12.8" dy="4">3</tspan><tspan dy="-4">/eth1</tspan><tspan font-size="12.8" dy="4">i</tspan><tspan dy="-4">nterface/exp-a-1080-hls-http1c/1646708308-c0.caubryvid.hdumb.pharos-exp-a-1080-hls-http1c.pcap</tspan></text>
</g>
</svg>
</body></html>
